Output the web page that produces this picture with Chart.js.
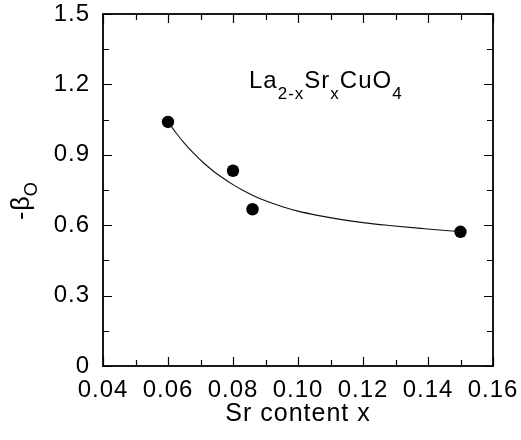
<!DOCTYPE html>
<html>
<head>
<meta charset="utf-8">
<script src="https://cdn.jsdelivr.net/npm/chart.js@4.4.0/dist/chart.umd.min.js"></script>
<style>
  html, body { margin: 0; padding: 0; background: #fff; }
  #wrap { width: 521px; height: 440px; }
</style>
</head>
<body>
<div id="wrap"><canvas id="grafica" width="521" height="440"></canvas></div>
<script>
// ===== Datos =====
const srX = [0.06, 0.08, 0.086, 0.15];
const betaO = [1.04, 0.832, 0.668, 0.572];

// curva de ajuste
const curvaX = [0.060, 0.0625, 0.065, 0.068, 0.071, 0.074, 0.077, 0.080, 0.083, 0.086, 0.090, 0.095, 0.100, 0.106, 0.112, 0.120, 0.128, 0.139, 0.150];
const curvaY = [1.040, 0.993, 0.950, 0.905, 0.865, 0.830, 0.800, 0.773, 0.749, 0.728, 0.704, 0.680, 0.660, 0.642, 0.627, 0.611, 0.599, 0.585, 0.572];

const xTicks = [0.04, 0.06, 0.08, 0.10, 0.12, 0.14, 0.16];
const xTickLabels = ["0.04", "0.06", "0.08", "0.10", "0.12", "0.14", "0.16"];
const yTicks = [0, 0.3, 0.6, 0.9, 1.2, 1.5];
const yTickLabels = ["0", "0.3", "0.6", "0.9", "1.2", "1.5"];

const FUENTE = "'Liberation Sans', Arial, Helvetica, sans-serif";
const ESPACIADO = "1px";

// ===== Plugins =====
const espaciado = {
  id: "espaciado",
  beforeUpdate(chart) { chart.ctx.letterSpacing = ESPACIADO; },
  beforeLayout(chart) { chart.ctx.letterSpacing = ESPACIADO; },
  beforeDraw(chart) { chart.ctx.letterSpacing = ESPACIADO; }
};

function medios(arr) {
  const out = [];
  for (let i = 0; i < arr.length - 1; i++) out.push((arr[i] + arr[i + 1]) / 2);
  return out;
}

const marco = {
  id: "marco",
  afterDraw(chart) {
    const ctx = chart.ctx;
    const a = chart.chartArea;
    const sx = chart.scales.x, sy = chart.scales.y;
    ctx.save();
    ctx.strokeStyle = "#000";

    // ticks
    ctx.lineWidth = 1.2;
    ctx.beginPath();
    const marcar = (vals, largo) => {
      vals.forEach(v => {
        const px = Math.round(sx.getPixelForValue(v)) + 0.5;
        ctx.moveTo(px, a.bottom); ctx.lineTo(px, a.bottom - largo);
        ctx.moveTo(px, a.top); ctx.lineTo(px, a.top + largo);
      });
    };
    const marcarY = (vals, largo) => {
      vals.forEach(v => {
        const py = Math.round(sy.getPixelForValue(v)) + 0.5;
        ctx.moveTo(a.left, py); ctx.lineTo(a.left + largo, py);
        ctx.moveTo(a.right, py); ctx.lineTo(a.right - largo, py);
      });
    };
    marcar(xTicks, 9);
    marcar(medios(xTicks), 6);
    marcarY(yTicks, 9);
    marcarY(medios(yTicks), 6);
    ctx.stroke();

    // marco
    ctx.lineWidth = 1.8;
    ctx.strokeRect(a.left, a.top, a.right - a.left, a.bottom - a.top);

    // textos
    ctx.fillStyle = "#000";
    ctx.letterSpacing = ESPACIADO;
    ctx.textBaseline = "alphabetic";

    // titulo eje x
    ctx.font = "25px " + FUENTE;
    ctx.textAlign = "center";
    ctx.fillText("Sr content x", (a.left + a.right) / 2, 421);

    // titulo eje y (rotado)
    ctx.save();
    ctx.translate(29, 220);
    ctx.rotate(-Math.PI / 2);
    ctx.textAlign = "left";
    ctx.font = "25px " + FUENTE;
    ctx.fillText("-\u03B2", 0, 0);
    const w = ctx.measureText("-\u03B2").width;
    ctx.font = "18px " + FUENTE;
    ctx.fillText("O", w - 1, 8);
    ctx.restore();

    // formula
    const partes = [["La", 0], ["2-x", 1], ["Sr", 0], ["x", 1], ["CuO", 0], ["4", 1]];
    let x = 249;
    ctx.textAlign = "left";
    partes.forEach(([t, sub]) => {
      ctx.font = (sub ? "17px " : "24px ") + FUENTE;
      ctx.fillText(t, x, sub ? 99 : 88);
      x += ctx.measureText(t).width;
    });
    ctx.restore();
  }
};

// ===== Gráfica =====
const grafica = new Chart(document.getElementById("grafica"), {
  type: "scatter",
  data: {
    datasets: [
      {
        label: "ajuste",
        data: curvaX.map((x, i) => ({ x, y: curvaY[i] })),
        showLine: true,
        borderColor: "#111",
        borderWidth: 1.1,
        pointRadius: 0,
        cubicInterpolationMode: "monotone",
        fill: false
      },
      {
        label: "-βO",
        data: srX.map((x, i) => ({ x, y: betaO[i] })),
        showLine: false,
        pointRadius: 6.2,
        pointBackgroundColor: "#000",
        pointBorderColor: "#000",
        pointBorderWidth: 0
      }
    ]
  },
  options: {
    responsive: false,
    animation: false,
    events: [],
    layout: { padding: { top: 14, right: 28, left: 0, bottom: 0 } },
    plugins: { legend: { display: false }, tooltip: { enabled: false }, title: { display: false } },
    scales: {
      x: {
        type: "linear",
        min: 0.04,
        max: 0.16,
        afterBuildTicks(scale) { scale.ticks = xTicks.map(v => ({ value: v })); },
        afterFit(scale) {
          scale.height = 74;
          scale.paddingLeft = 0; scale.paddingRight = 0;
        },
        grid: { display: false, drawTicks: false, tickLength: 0 },
        border: { display: false },
        ticks: {
          color: "#000",
          font: { family: FUENTE, size: 24 },
          padding: 10,
          maxRotation: 0,
          autoSkip: false,
          callback: (v, i) => xTickLabels[i]
        }
      },
      y: {
        type: "linear",
        min: 0,
        max: 1.5,
        afterBuildTicks(scale) { scale.ticks = yTicks.map(v => ({ value: v })); },
        afterFit(scale) {
          scale.width = 103;
          scale.paddingTop = 0; scale.paddingBottom = 0;
        },
        grid: { display: false, drawTicks: false, tickLength: 0 },
        border: { display: false },
        ticks: {
          color: "#000",
          font: { family: FUENTE, size: 24 },
          padding: 13,
          autoSkip: false,
          callback: (v, i) => yTickLabels[i]
        }
      }
    }
  },
  plugins: [espaciado, marco]
});
</script>
</body>
</html>
